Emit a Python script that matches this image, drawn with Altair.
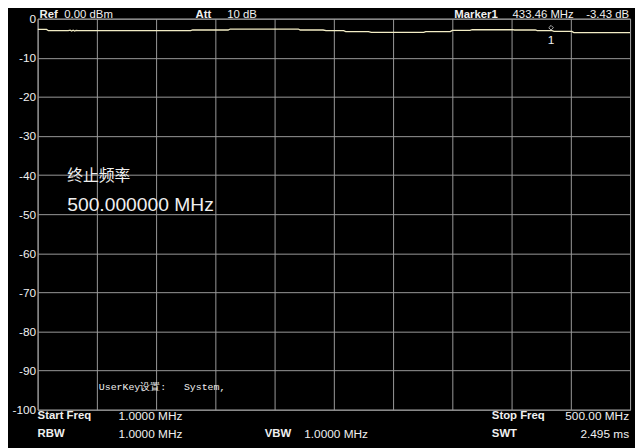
import altair as alt
import pandas as pd

# ---- data ----
freq_mhz = [1.0, 8.5, 10.1, 26.8, 28.4, 29.7, 30.9, 32.2, 33.4, 35.1, 129.9, 131.6, 161.5,
            163.2, 220.6, 222.2, 241.4, 243.9, 258.8, 260.5, 279.6, 282.1, 326.2, 327.9,
            348.6, 350.3, 365.3, 367.0, 401.1, 402.7, 420.2, 421.8, 434.3, 436.0, 451.0,
            452.6, 500.0]
level_db = [-2.75, -2.75, -3.07, -3.07, -2.95, -3.15, -2.95, -3.15, -3.0, -3.07, -3.07, -2.9, -2.9,
            -2.65, -2.65, -2.9, -2.9, -3.07, -3.07, -3.3, -3.3, -3.5, -3.5, -3.3,
            -3.3, -3.0, -3.0, -2.83, -2.83, -2.9, -2.9, -3.07, -3.07, -3.25, -3.25,
            -3.57, -3.57]

marker_freq = [433.46]
marker_level = [-3.07]
marker_name = ["1"]

y_ticks = [0, -10, -20, -30, -40, -50, -60, -70, -80, -90, -100]
x_grid = [1 + 49.9 * k for k in range(11)]

header_bold = ["Ref", "Att", "Marker1"]
header_vals = ["0.00 dBm", "10 dB", "433.46 MHz", "-3.43 dB"]
footer_bold = ["Start Freq", "RBW", "VBW", "Stop Freq", "SWT"]
footer_vals = ["1.0000 MHz", "1.0000 MHz", "1.0000 MHz", "500.00 MHz", "2.495 ms"]
softkey_title = "终止频率"
softkey_value = "500.000000 MHz"
userkey_text = "UserKey设置:\u00a0\u00a0\u00a0System,"

SANS = "Liberation Sans"
GRID = "#9a9a9a"
TRACE = "#f3edc5"
TXT = "#f0f0f0"

trace_df = pd.DataFrame({"freq": freq_mhz, "level": level_db})
marker_df = pd.DataFrame({"freq": marker_freq, "level": marker_level, "name": marker_name})

xscale = alt.Scale(domain=[1, 500], nice=False, zero=False)
yscale = alt.Scale(domain=[-100, 0], nice=False, zero=False)

xaxis = alt.Axis(values=x_grid, labels=False, ticks=False, domain=False,
                 grid=True, gridColor=GRID, gridOpacity=1, title=None)
yaxis = alt.Axis(values=y_ticks, labels=True, ticks=False, domain=False,
                 grid=True, gridColor=GRID, gridOpacity=1, title=None,
                 labelColor=TXT, labelFontSize=12, labelFont=SANS,
                 labelPadding=2, labelOverlap=False, labelExpr="'' + datum.value")

X = alt.X("freq:Q", scale=xscale, axis=xaxis)
Y = alt.Y("level:Q", scale=yscale, axis=yaxis)

base = alt.Chart(trace_df).mark_line(color=TRACE, strokeWidth=1.3, clip=True).encode(x=X, y=Y)

mk_point = alt.Chart(marker_df).mark_point(shape="diamond", filled=False, color="#ffffff",
                                           size=22, strokeWidth=1, yOffset=-3).encode(x=X, y=Y)
mk_text = alt.Chart(marker_df).mark_text(color=TXT, fontSize=12, font=SANS, dy=9,
                                         baseline="middle").encode(x=X, y=Y, text="name:N")


def label(text, x, y, size, weight="normal", align="left", font=SANS, color=TXT,
          baseline="alphabetic"):
    return alt.Chart(alt.Data(values=[{}])).mark_text(
        text=text, align=align, baseline=baseline, fontSize=size, fontWeight=weight,
        font=font, color=color).encode(x=alt.value(x), y=alt.value(y))


hy = -0.5
r1 = 402
r2 = 421
texts = [
    label(header_bold[0], 2, hy, 11.5, "bold"),
    label(header_vals[0], 27, hy, 11.5),
    label(header_bold[1], 160, hy, 11.5, "bold"),
    label(header_vals[1], 192, hy, 11.5),
    label(header_bold[2], 422, hy, 11.5, "bold"),
    label(header_vals[2], 481, hy, 11.5),
    label(header_vals[3], 599, hy, 11.5, align="right"),
    label(footer_bold[0], 0, r1, 11.5, "bold", baseline="middle"),
    label(footer_vals[0], 82, r1, 12, baseline="middle"),
    label(footer_bold[1], 0, r2, 11.5, "bold", baseline="middle"),
    label(footer_vals[1], 82, r2, 12, baseline="middle"),
    label(footer_bold[2], 230, r2, 11.5, "bold", baseline="middle"),
    label(footer_vals[2], 270, r2, 12, baseline="middle"),
    label(footer_bold[3], 460, r1, 11.5, "bold", baseline="middle"),
    label(footer_vals[3], 599, r1, 12, align="right", baseline="middle"),
    label(footer_bold[4], 460, r2, 11.5, "bold", baseline="middle"),
    label(footer_vals[4], 599, r2, 12, align="right", baseline="middle"),
    label(softkey_title, 30, 159, 16, font="Noto Sans CJK SC", baseline="middle"),
    label(softkey_value, 30, 189, 19.5, baseline="middle"),
    label(userkey_text, 62, 373, 10, font="Liberation Mono", baseline="middle"),
]

chart = alt.layer(base, mk_point, mk_text, *texts).properties(
    width=600, height=396,
    background="#000000",
    padding={"left": 30, "top": 8, "right": 5, "bottom": 36},
    autosize=alt.AutoSizeParams(type="none"),
).configure_view(stroke=GRID, strokeWidth=1, fill="#000000")

chart.save("out.html", embed_options={"renderer": "svg", "actions": False})
